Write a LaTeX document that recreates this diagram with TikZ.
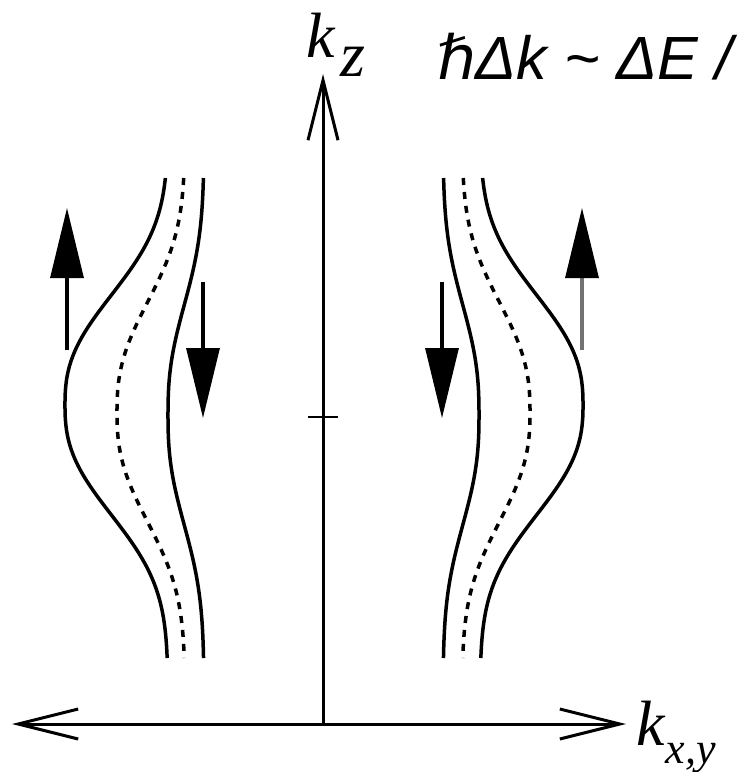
\documentclass[tikz,border=0pt]{standalone}
\usepackage{fontspec}
\setmainfont{Liberation Serif}
\newfontfamily\arialfont{Liberation Sans}
\newfontfamily\dejavufont{DejaVu Sans}
\usetikzlibrary{arrows.meta}
\begin{document}
\begin{tikzpicture}[x=1pt,y=-1pt,
  axis/.style={line width=3pt, draw=black},
  barb/.style={-{Straight Barb[length=60pt,width=30pt,line width=3pt]}},
  curve/.style={line width=3.5pt},
  dashcurve/.style={line width=3.5pt, dash pattern=on 7pt off 7pt},
  spin/.style={line width=3.2pt, -{Triangle[length=70pt,width=33pt,color=black]}},
  lab/.style={inner sep=0pt, font=\fontsize{64}{64}\selectfont\itshape},
]
\useasboundingbox (0,0) rectangle (740,772);
% axes
\coordinate (O) at (323,724);
\coordinate (ztip) at (323,74);
\coordinate (xl) at (12,724);
\coordinate (xr) at (626,724);
\coordinate (tick) at (323,417);
\draw[axis,barb] (O) -- (ztip);
\draw[axis,barb] (O) -- (xl);
\draw[axis,barb] (O) -- (xr);
\draw[line width=2.6pt] ([xshift=-15pt]tick) -- ([xshift=15pt]tick);
% left group
\draw[curve] plot[domain=178:658, samples=121, variable=\t] ({168-103*exp(-pow(abs((\t-405)/135)+0.0001,2.5))},\t);
\draw[dashcurve] plot[domain=178:658, samples=121, variable=\t] ({185-68*exp(-pow(abs((\t-412)/135)+0.0001,2.5))},\t);
\draw[curve] plot[domain=178:658, samples=121, variable=\t] ({204-36*exp(-pow(abs((\t-415)/135)+0.0001,2.5))},\t);
% right group
\draw[curve] plot[domain=178:658, samples=121, variable=\t] ({480+103*exp(-pow(abs((\t-405)/135)+0.0001,2.5))},\t);
\draw[dashcurve] plot[domain=178:658, samples=121, variable=\t] ({462+68*exp(-pow(abs((\t-412)/135)+0.0001,2.5))},\t);
\draw[curve] plot[domain=178:658, samples=121, variable=\t] ({443+36*exp(-pow(abs((\t-415)/135)+0.0001,2.5))},\t);
% spin arrows
\coordinate (a1s) at (67,350);  \coordinate (a1e) at (67,208);
\coordinate (a2s) at (203,282); \coordinate (a2e) at (203,418);
\coordinate (a3s) at (442,282); \coordinate (a3e) at (442,418);
\coordinate (a4s) at (582,350); \coordinate (a4e) at (582,208);
\draw[spin] (a1s) -- (a1e);
\draw[spin] (a2s) -- (a2e);
\draw[spin] (a3s) -- (a3e);
\draw[spin, draw=black!55] (a4s) -- (a4e);
% labels
\node[lab, anchor=base west] (kz) at (306,57) {k\hspace{6pt}\raisebox{-19pt}{z}};
\node[lab, anchor=base west] (kxy) at (636,745) {k\hspace{1pt}\raisebox{-18pt}{\fontsize{44}{44}\selectfont x,y}};
\node[inner sep=0pt, anchor=base west, font=\arialfont\fontsize{61}{61}\selectfont\itshape] (rel) at (437,79) {{\dejavufont\itshape ℏ}Δk \textasciitilde{} ΔE /};
\end{tikzpicture}
\end{document}
